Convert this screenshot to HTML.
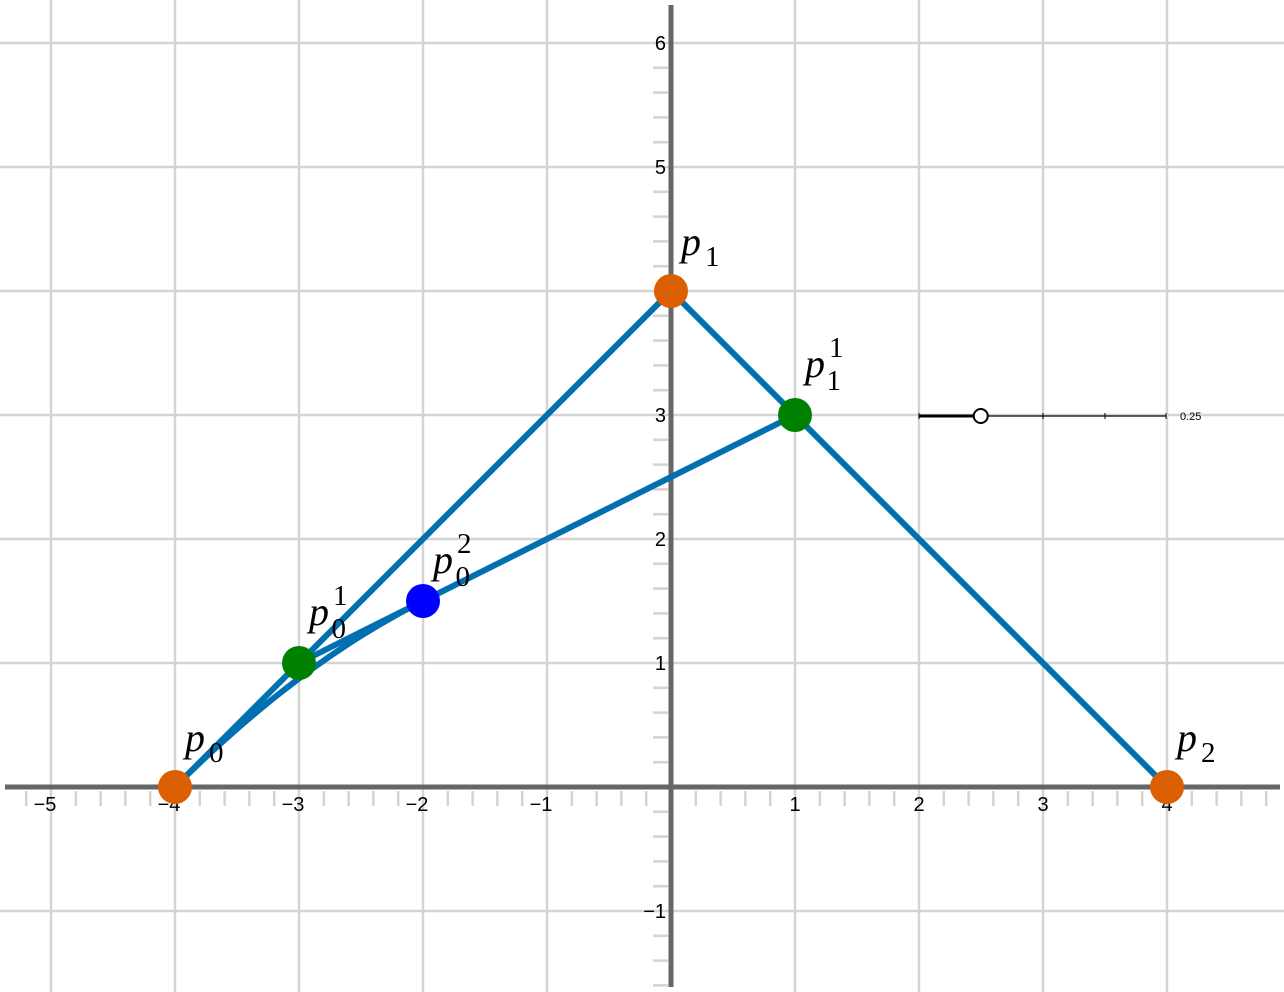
<!DOCTYPE html>
<html><head><meta charset="utf-8"><style>
html,body{margin:0;padding:0;background:#fff;width:1284px;height:992px;overflow:hidden}
</style></head><body>
<svg id="c" width="1284" height="992" xmlns="http://www.w3.org/2000/svg" font-family="Liberation Sans, sans-serif"></svg>
<script>
const xTicks=[-5,-4,-3,-2,-1,1,2,3,4];
const yTicks=[-1,1,2,3,4,5,6];
const ctrlNames=["p0","p1","p2"];
const ctrlX=[-4,0,4];
const ctrlY=[0,4,0];
const tParam=0.25;
const svg=document.getElementById('c');
const NS='http://www.w3.org/2000/svg';
const X=v=>671+v*124, Y=v=>787-v*124;
function mk(t,a,p){const e=document.createElementNS(NS,t);for(const k in a)e.setAttribute(k,a[k]);(p||svg).appendChild(e);return e;}
const g=mk('g',{});


for(let v=-5;v<=5;v++){if(v)mk('line',{x1:X(v),x2:X(v),y1:0,y2:992,stroke:'#d4d4d4','stroke-width':2.5},g);}
for(let v=-2;v<=6;v++){if(v)mk('line',{x1:0,x2:1284,y1:Y(v),y2:Y(v),stroke:'#d4d4d4','stroke-width':2.5},g);}
for(let i=-30;i<=30;i++){if(i%5==0)continue;const v=i/5;
 if(X(v)>5&&X(v)<1280)mk('line',{x1:X(v),x2:X(v),y1:791,y2:806,stroke:'#d4d4d4','stroke-width':2.5},g);
 if(Y(v)>5&&Y(v)<987)mk('line',{x1:653,x2:668,y1:Y(v),y2:Y(v),stroke:'#d4d4d4','stroke-width':2.5},g);}
const ax=mk('g',{});


mk('line',{x1:5,x2:1280,y1:787,y2:787,stroke:'#666','stroke-width':5},ax);
mk('line',{x1:671,x2:671,y1:5,y2:987,stroke:'#666','stroke-width':5},ax);
xTicks.forEach(v=>{const t=mk('text',{x:X(v)+(v<0?-6:0),y:811,'font-size':20,'text-anchor':'middle',fill:'#000'},ax);t.textContent=(v<0?'\u2212':'')+Math.abs(v);
 
 });
yTicks.forEach(v=>{const t=mk('text',{x:666,y:Y(v)+7,'font-size':20,'text-anchor':'end',fill:'#000'},ax);t.textContent=(v<0?'\u2212':'')+Math.abs(v);
 
 });
const lerp=(a,b,t)=>a+(b-a)*t;
const q1x=[lerp(ctrlX[0],ctrlX[1],tParam),lerp(ctrlX[1],ctrlX[2],tParam)];
const q1y=[lerp(ctrlY[0],ctrlY[1],tParam),lerp(ctrlY[1],ctrlY[2],tParam)];
const bx=lerp(q1x[0],q1x[1],tParam), by=lerp(q1y[0],q1y[1],tParam);
const col='#0070b0';
let l=mk('polyline',{points:ctrlX.map((x,i)=>X(x)+','+Y(ctrlY[i])).join(' '),fill:'none',stroke:col,'stroke-width':6,'stroke-linejoin':'round'});


l=mk('line',{x1:X(q1x[0]),y1:Y(q1y[0]),x2:X(q1x[1]),y2:Y(q1y[1]),stroke:col,'stroke-width':6});


let pts=[];for(let i=0;i<=40;i++){const t=tParam*i/40;const ax0=lerp(ctrlX[0],ctrlX[1],t),ay0=lerp(ctrlY[0],ctrlY[1],t),ax1=lerp(ctrlX[1],ctrlX[2],t),ay1=lerp(ctrlY[1],ctrlY[2],t);pts.push(X(lerp(ax0,ax1,t))+','+Y(lerp(ay0,ay1,t)));}
l=mk('polyline',{points:pts.join(' '),fill:'none',stroke:col,'stroke-width':6});


function pt(x,y,c,name,sub,sup,lx,ly){
 const p=mk('circle',{cx:X(x),cy:Y(y),r:17,fill:c});
 
 
 const t=mk('text',{x:X(x)+lx,y:Y(y)+ly,'font-size':40,'font-family':'Liberation Serif, serif','font-style':'italic'});
 
 
 t.innerHTML='p'+(sup?'<tspan font-style="normal" font-size="29" dx="4" dy="-20">'+sup+'</tspan><tspan font-style="normal" font-size="29" dx="-16" dy="33">'+sub+'</tspan>':'<tspan font-style="normal" font-size="29" dx="4" dy="11">'+sub+'</tspan>');
}
pt(bx,by,'#0000ff','p0-2-point','0','2',10,-28);
pt(q1x[0],q1y[0],'#008000','p0-1-point','0','1',10,-38);
pt(q1x[1],q1y[1],'#008000','p1-1-point','1','1',10,-38);
ctrlX.forEach((x,i)=>pt(x,ctrlY[i],'#d95f02',ctrlNames[i]+'-point',String(i),null,10,-36));
const sl=mk('g',{});


mk('line',{x1:919,x2:1166,y1:416,y2:416,stroke:'#000','stroke-width':1.3},sl);
mk('line',{x1:919,x2:919+247*tParam,y1:416,y2:416,stroke:'#000','stroke-width':3},sl);
[919,1043,1105,1166].forEach(x=>mk('line',{x1:x,x2:x,y1:413,y2:419,stroke:'#000','stroke-width':1},sl));
mk('circle',{cx:919+247*tParam,cy:416,r:7,fill:'#fff',stroke:'#000','stroke-width':2},sl);
const st=mk('text',{x:1180,y:420,'font-size':11},sl);st.textContent=tParam.toFixed(2);
</script>
</body></html>
